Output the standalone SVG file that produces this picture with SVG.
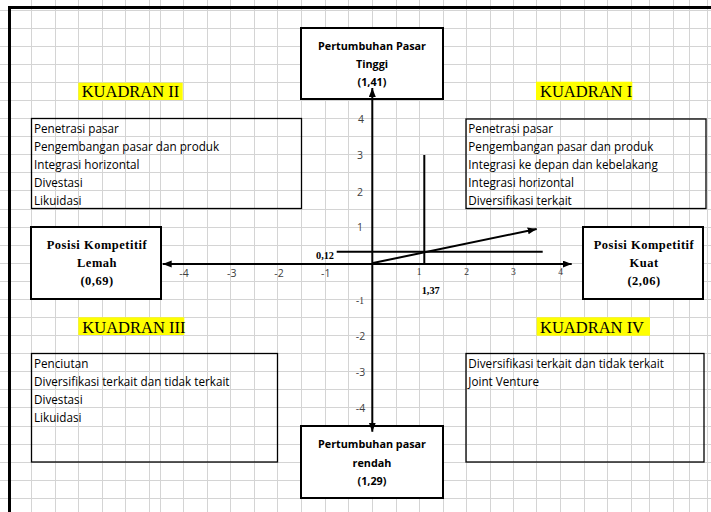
<svg xmlns="http://www.w3.org/2000/svg" width="711" height="512" viewBox="0 0 711 512">
<defs>
<style>
.grid{stroke:#d4d4d4;stroke-width:1;fill:none}
.node{fill:#fff;stroke:#000;stroke-width:2}
.qbox{fill:none;stroke:#000;stroke-width:1.3}
.hl{fill:#ffff00}
.kuad{font-family:"Liberation Serif",serif;font-size:16.5px;fill:#000}
.list{font-family:"Open Sans",sans-serif;font-size:11.7px;fill:#000}
.ttl{font-family:"Open Sans",sans-serif;font-size:10.8px;font-weight:bold;fill:#000;text-anchor:middle}
.pos{font-family:"Liberation Serif",serif;font-size:12.5px;font-weight:bold;fill:#000;text-anchor:middle;letter-spacing:0.5px}
.tk{font-family:"Open Sans",sans-serif;font-size:10.5px;fill:#404040;text-anchor:middle}
.tks{font-family:"Liberation Serif",serif;font-size:9.5px;fill:#333;text-anchor:middle}
.val{font-family:"Liberation Serif",serif;font-size:10.3px;font-weight:bold;fill:#000}
.ax{stroke:#000;stroke-width:2;fill:none}
</style>
<marker id="ah" markerUnits="userSpaceOnUse" markerWidth="10" markerHeight="8" refX="9" refY="3.5" orient="auto-start-reverse" viewBox="0 0 10 8">
<path d="M0,0 L9,3.5 L0,7 z" fill="#000"/>
</marker>
</defs>
<rect width="711" height="512" fill="#fff"/>
<path class="grid" d="M31.5,0V512M55.5,0V512M78.5,0V512M102.5,0V512M125.5,0V512M149.5,0V512M160.5,0V512M183.5,0V512M207.5,0V512M230.5,0V512M254.5,0V512M277.5,0V512M301.5,0V512M325.5,0V512M348.5,0V512M372.5,0V512M396.5,0V512M419.5,0V512M443.5,0V512M466.5,0V512M490.5,0V512M513.5,0V512M536.5,0V512M560.5,0V512M584.5,0V512M607.5,0V512M631.5,0V512M649.5,0V512M673.5,0V512M689.5,0V512M707.5,0V512
M0,10.5H711M0,28.5H711M0,46.5H711M0,64.5H711M0,82.5H711M0,100.5H711M0,118.5H711M0,136.5H711M0,154.5H711M0,172.5H711M0,190.5H711M0,209.5H711M0,227.5H711M0,245.5H711M0,263.5H711M0,281.5H711M0,299.5H711M0,317.5H711M0,335.5H711M0,353.5H711M0,371.5H711M0,389.5H711M0,407.5H711M0,426.5H711M0,444.5H711M0,462.5H711M0,480.5H711M0,498.5H711"/>
<path d="M8,7.5H711M9.5,6V512" stroke="#000" stroke-width="3" fill="none"/>

<g id="kuadran-2">
<rect class="hl" x="78.3" y="82.7" width="104.4" height="17.3"/>
<text class="kuad" x="81.7" y="97.3">KUADRAN II</text>
<rect class="qbox" x="31.5" y="118.5" width="270" height="90"/>
<text class="list" x="34" y="132.5">Penetrasi pasar</text>
<text class="list" x="34" y="150.7">Pengembangan pasar dan produk</text>
<text class="list" x="34" y="168.9">Integrasi horizontal</text>
<text class="list" x="34" y="187.1">Divestasi</text>
<text class="list" x="34" y="205.3">Likuidasi</text>
</g>
<g id="kuadran-1">
<rect class="hl" x="536" y="81.7" width="96.3" height="18.3"/>
<text class="kuad" x="540" y="97.3">KUADRAN I</text>
<rect class="qbox" x="466" y="119" width="240" height="89.5"/>
<text class="list" x="468.3" y="132.5">Penetrasi pasar</text>
<text class="list" x="468.3" y="150.7">Pengembangan pasar dan produk</text>
<text class="list" x="468.3" y="168.9">Integrasi ke depan dan kebelakang</text>
<text class="list" x="468.3" y="187.1">Integrasi horizontal</text>
<text class="list" x="468.3" y="205.3">Diversifikasi terkait</text>
</g>
<g id="kuadran-3">
<rect class="hl" x="78.3" y="317.3" width="106" height="17.7"/>
<text class="kuad" x="82.3" y="332.7">KUADRAN III</text>
<rect class="qbox" x="31.5" y="353.5" width="246" height="108.5"/>
<text class="list" x="34" y="367.5">Penciutan</text>
<text class="list" x="34" y="385.7">Diversifikasi terkait dan tidak terkait</text>
<text class="list" x="34" y="403.9">Divestasi</text>
<text class="list" x="34" y="422">Likuidasi</text>
</g>
<g id="kuadran-4">
<rect class="hl" x="536.7" y="317.3" width="113.3" height="18.4"/>
<text class="kuad" x="540" y="332.7">KUADRAN IV</text>
<rect class="qbox" x="466" y="353.5" width="238" height="108.5"/>
<text class="list" x="468.3" y="367.5">Diversifikasi terkait dan tidak terkait</text>
<text class="list" x="468.3" y="385.7">Joint Venture</text>
</g>

<g id="node-tinggi">
<rect class="node" x="301" y="28" width="142" height="71"/>
<text class="ttl" x="372" y="50">Pertumbuhan Pasar</text>
<text class="ttl" x="372" y="68">Tinggi</text>
<text class="ttl" x="372" y="86">(1,41)</text>
</g>
<g id="node-rendah">
<rect class="node" x="301" y="426" width="142" height="72"/>
<text class="ttl" x="372" y="448.3">Pertumbuhan pasar</text>
<text class="ttl" x="372" y="466.5">rendah</text>
<text class="ttl" x="372" y="484.5">(1,29)</text>
</g>
<g id="node-lemah">
<rect class="node" x="31" y="227" width="130" height="72"/>
<text class="pos" x="97" y="249.3">Posisi Kompetitif</text>
<text class="pos" x="97" y="267.3">Lemah</text>
<text class="pos" x="97" y="285">(0,69)</text>
</g>
<g id="node-kuat">
<rect class="node" x="583" y="227" width="120" height="72"/>
<text class="pos" x="644" y="249.3">Posisi Kompetitif</text>
<text class="pos" x="644" y="267.3">Kuat</text>
<text class="pos" x="644" y="285">(2,06)</text>
</g>

<g id="connectors">
<line class="ax" x1="372.3" y1="88" x2="372.3" y2="431.7" marker-start="url(#ah)" marker-end="url(#ah)"/>
<line class="ax" x1="162.7" y1="264" x2="571.7" y2="264" marker-start="url(#ah)" marker-end="url(#ah)"/>
<line class="ax" x1="336.7" y1="251.7" x2="542.7" y2="251.7"/>
<line class="ax" x1="424.3" y1="155" x2="424.3" y2="265"/>
<line class="ax" x1="373" y1="263" x2="536.7" y2="229" marker-end="url(#ah)"/>
</g>

<g id="ticks">
<text class="tk" x="184" y="276.5">-4</text>
<text class="tk" x="231.7" y="276.5">-3</text>
<text class="tk" x="279" y="276.5">-2</text>
<text class="tk" x="325.7" y="276.5">-1</text>
<text class="tks" x="419" y="275">1</text>
<text class="tks" x="466.7" y="275">2</text>
<text class="tks" x="513.3" y="275">3</text>
<text class="tks" x="560.7" y="275">4</text>
<text class="tk" x="361" y="122.5">4</text>
<text class="tk" x="360" y="159">3</text>
<text class="tk" x="360" y="195.5">2</text>
<text class="tk" x="360" y="231">1</text>
<text class="tks" x="360" y="303.5">-1</text>
<text class="tk" x="360.5" y="340">-2</text>
<text class="tk" x="360.5" y="376.2">-3</text>
<text class="tk" x="360.5" y="412.3">-4</text>
<text class="val" x="316" y="258.5">0,12</text>
<text class="val" x="421.7" y="294">1,37</text>
</g>
</svg>
